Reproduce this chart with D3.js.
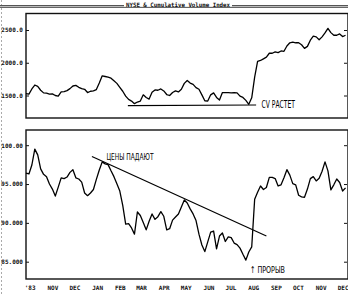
<!DOCTYPE html>
<html>
<head>
<meta charset="utf-8">
<script src="https://cdn.jsdelivr.net/npm/d3@7"></script>
<style>
body { margin: 0; background: #fff; }
svg { display: block; }
.tick text { font-family: "DejaVu Sans Mono", monospace; font-size: 6px; font-weight: bold; fill: #111; }
.tick line { stroke: #111; }
.note { font-family: "Liberation Sans Narrow", "DejaVu Sans Condensed", sans-serif; fill: #000; }
</style>
</head>
<body>
<svg id="chart" width="348" height="294"></svg>
<script>
// series are sampled every 4 days from 26 Sep 1983
var startDate = new Date(1983, 8, 26);
var stepDays = 4;

var monthLabels = ["'83", "NOV", "DEC", "JAN", "FEB", "MAR", "APR", "MAY", "JUN", "JUL", "AUG", "SEP", "OCT", "NOV", "DEC"];
var cviTicks = [1500, 2000, 2500];
var priceTicks = [85, 90, 95, 100];

// cumulative volume index
var cvi = [
	1530, 1520, 1600, 1660, 1640, 1580, 1540, 1535, 1520, 1525,
	1500, 1490, 1555, 1560, 1575, 1605, 1645, 1655, 1625, 1605,
	1595, 1545, 1565, 1570, 1590, 1690, 1800, 1790, 1780, 1765,
	1725, 1685, 1625, 1565, 1490, 1440, 1415, 1375, 1400, 1415,
	1510, 1470, 1445, 1550, 1585, 1580, 1600, 1570, 1515, 1500,
	1545, 1570, 1555, 1595, 1685, 1730, 1690, 1670, 1620, 1595,
	1510, 1420, 1415, 1510, 1540, 1470, 1430, 1545, 1545, 1545,
	1540, 1545, 1540, 1490, 1470, 1425, 1365, 1465, 1780, 2020,
	2035, 2060, 2085, 2145, 2145, 2165, 2155, 2180, 2175, 2255,
	2305, 2315, 2305, 2305, 2275, 2220, 2250, 2345, 2405, 2395,
	2350, 2395, 2455, 2525, 2460, 2420, 2420, 2440, 2400, 2420
];

// NYSE composite
var nyse = [
	96.4, 96.3, 97.45, 99.5, 98.75, 96.95, 96.25, 95.95, 95.0, 94.35,
	93.45, 94.6, 95.8, 95.7, 95.9, 96.5, 96.85, 95.8, 95.65, 95.25,
	93.85, 93.5, 93.85, 94.3, 95.6, 96.8, 97.85, 97.6, 97.5, 96.7,
	95.95, 95.05, 94.1, 92.25, 89.85, 89.9, 89.35, 88.55, 91.4, 90.95,
	90.05, 89.1, 90.2, 91.15, 90.45, 90.8, 91.45, 90.85, 89.1, 89.25,
	90.35, 90.75, 91.15, 92.05, 92.95, 92.55, 91.8, 91.15, 90.3, 88.55,
	87.15, 86.3, 87.55, 88.8, 88.95, 86.65, 88.3, 88.7, 87.6, 88.2,
	88.1, 87.4, 87.2, 86.75, 85.95, 85.2, 86.25, 86.9, 93.05, 93.95,
	94.75, 94.3, 94.55, 95.85, 95.85, 95.7, 94.75, 94.9, 95.8, 96.85,
	96.15, 95.05, 94.9, 93.55, 93.35, 93.3, 94.35, 95.7, 95.95, 95.4,
	95.75, 96.65, 97.85, 96.7, 94.25, 94.9, 95.65, 95.2, 94.1, 94.5
];

// hand drawn trend lines (days from start, value)
var cvSupportDays = [139, 314], cvSupportVals = [1345, 1355];
var priceTrendDays = [90, 328], priceTrendVals = [98.55, 88.3];

var day = d => d3.timeDay.offset(startDate, d);

var svg = d3.select("#chart");
var left = 26, right = 347;
var top1 = 13.5, bottom1 = 118, top2 = 130, bottom2 = 279;

var x = d3.scaleTime()
	.domain([startDate, day((cvi.length - 0.5) * stepDays)])
	.range([left, right]);

var y1 = d3.scaleLinear().domain([1500, 2500]).range([95.5, 30]);
var y2 = d3.scaleLinear().domain([85, 100]).range([261.7, 145.2]);

svg.append("rect").attr("width", 348).attr("height", 294).attr("fill", "#fff");

// faint left margin rule
svg.append("line")
	.attr("x1", 1.5).attr("x2", 1.5).attr("y1", 0).attr("y2", 294)
	.attr("stroke", "#aaa").attr("stroke-dasharray", "2,2");

// title rule
svg.append("line").attr("x1", 0).attr("x2", 348).attr("y1", 5.5).attr("y2", 5.5)
	.attr("stroke", "#555").attr("stroke-width", 1);
svg.append("line").attr("x1", 0).attr("x2", 348).attr("y1", 7.2).attr("y2", 7.2)
	.attr("stroke", "#222").attr("stroke-width", 1);
svg.append("rect").attr("x", 124).attr("y", 0).attr("width", 108).attr("height", 6.6).attr("fill", "#fff");
svg.append("text")
	.attr("x", 126).attr("y", 6.6)
	.attr("textLength", 104).attr("lengthAdjust", "spacingAndGlyphs")
	.style("font-family", "DejaVu Sans Mono, monospace").style("font-size", "6px").style("font-weight", "bold")
	.attr("fill", "#111")
	.text("NYSE & Cumulative Volume Index");

// panel frames
[[top1, bottom1], [top2, bottom2]].forEach(function(p) {
	svg.append("rect")
		.attr("x", left).attr("y", p[0])
		.attr("width", 348 - left).attr("height", p[1] - p[0])
		.attr("fill", "none").attr("stroke", "#111").attr("stroke-width", 1.4);
});

function yAxes(y, ticks) {
	svg.append("g")
		.attr("transform", "translate(" + left + ",0)")
		.call(d3.axisLeft(y).tickValues(ticks).tickSize(-3).tickPadding(3).tickFormat(d => d.toPrecision(5)))
		.call(g => g.select(".domain").remove());
	svg.append("g")
		.attr("transform", "translate(" + right + ",0)")
		.call(d3.axisRight(y).tickValues(ticks).tickSize(-3).tickFormat(""))
		.call(g => g.select(".domain").remove());
}
yAxes(y1, cviTicks);
yAxes(y2, priceTicks);

svg.append("g")
	.attr("transform", "translate(0," + bottom2 + ")")
	.call(d3.axisBottom(x)
		.tickValues(d3.timeMonth.range(new Date(1983, 9, 1), new Date(1984, 11, 2)))
		.tickSize(0).tickPadding(7)
		.tickFormat((d, i) => monthLabels[i]))
	.call(g => g.select(".domain").remove());

var line1 = d3.line().x((d, i) => x(day(i * stepDays))).y(d => y1(d));
var line2 = d3.line().x((d, i) => x(day(i * stepDays))).y(d => y2(d));

svg.append("path").datum(cvi)
	.attr("d", line1)
	.attr("fill", "none").attr("stroke", "#000").attr("stroke-width", 1.3).attr("stroke-linejoin", "round");

svg.append("path").datum(nyse)
	.attr("d", line2)
	.attr("fill", "none").attr("stroke", "#000").attr("stroke-width", 1.3).attr("stroke-linejoin", "round");

// trend lines
svg.append("line")
	.attr("x1", x(day(cvSupportDays[0]))).attr("y1", y1(cvSupportVals[0]))
	.attr("x2", x(day(cvSupportDays[1]))).attr("y2", y1(cvSupportVals[1]))
	.attr("stroke", "#000").attr("stroke-width", 1.2);

svg.append("line")
	.attr("x1", x(day(priceTrendDays[0]))).attr("y1", y2(priceTrendVals[0]))
	.attr("x2", x(day(priceTrendDays[1]))).attr("y2", y2(priceTrendVals[1]))
	.attr("stroke", "#000").attr("stroke-width", 1.2);

// notes
svg.append("text").attr("class", "note")
	.attr("x", 261.5).attr("y", 107.5).style("font-size", "10px")
	.attr("textLength", 33.5).attr("lengthAdjust", "spacingAndGlyphs")
	.text("CV РАСТЕТ");

svg.append("text").attr("class", "note")
	.attr("x", 106.5).attr("y", 160).style("font-size", "9.5px")
	.attr("textLength", 47).attr("lengthAdjust", "spacingAndGlyphs")
	.text("ЦЕНЫ ПАДАЮТ");

svg.append("text").attr("class", "note")
	.attr("x", 250).attr("y", 272.5).style("font-size", "9.5px")
	.attr("textLength", 35).attr("lengthAdjust", "spacingAndGlyphs")
	.text("↑ ПРОРЫВ");
</script>
</body>
</html>
